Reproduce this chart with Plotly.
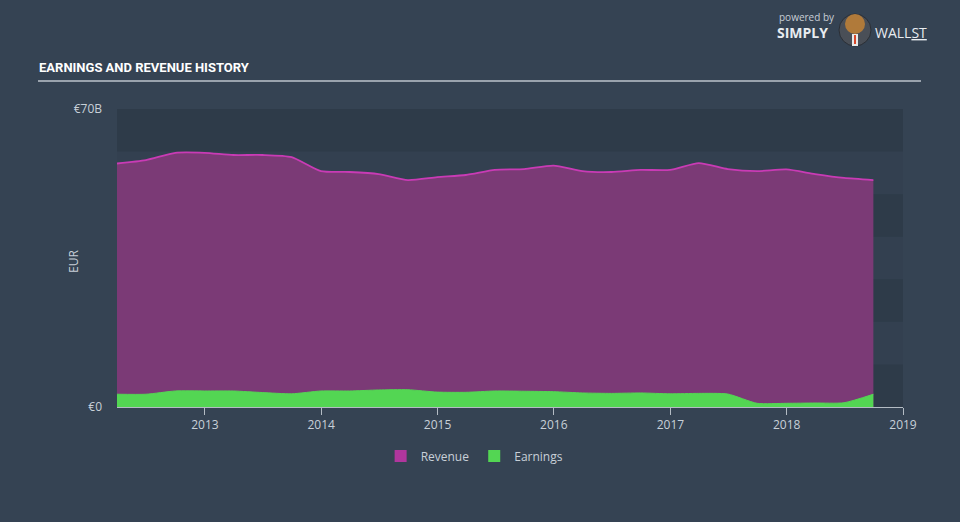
import plotly.graph_objects as go

dates = ["2012-03-31", "2012-06-30", "2012-09-30", "2012-12-31",
         "2013-03-31", "2013-06-30", "2013-09-30", "2013-12-31",
         "2014-03-31", "2014-06-30", "2014-09-30", "2014-12-31",
         "2015-03-31", "2015-06-30", "2015-09-30", "2015-12-31",
         "2016-03-31", "2016-06-30", "2016-09-30", "2016-12-31",
         "2017-03-31", "2017-06-30", "2017-09-30", "2017-12-31",
         "2018-03-31", "2018-06-30", "2018-09-30"]

revenue = [57.2, 58.0, 59.7, 59.7, 59.2, 59.2, 58.7, 55.4, 55.2, 54.7,
           53.3, 54.0, 54.5, 55.7, 55.9, 56.7, 55.4, 55.2, 55.7, 55.7,
           57.3, 55.9, 55.4, 55.8, 54.7, 53.8, 53.3]

earnings = [3.0, 3.0, 3.76, 3.76, 3.76, 3.4, 3.1, 3.76, 3.76, 4.0,
            4.06, 3.5, 3.45, 3.76, 3.7, 3.6, 3.3, 3.2, 3.3, 3.1,
            3.2, 3.05, 0.87, 0.87, 0.94, 1.0, 3.0]

year_ticks = ["2013-01-01", "2014-01-01", "2015-01-01", "2016-01-01",
              "2017-01-01", "2018-01-01", "2019-01-01"]
year_labels = ["2013", "2014", "2015", "2016", "2017", "2018", "2019"]

y_ticks = [0, 70]
y_labels = ["€0", "€70B"]

REV_LINE = "#c93bb5"
REV_FILL = "#7b3a76"
EARN_FILL = "#53d653"
TXT = "#c8d0d8"

# pixel helpers for paper-referenced decorations (plot area 117..903 x 109..407)
def px(x):
    return (x - 117) / 786

def py(y):
    return (407 - y) / 298

fig = go.Figure()

fig.add_trace(go.Scatter(
    x=dates, y=revenue, mode="lines", fill="tozeroy",
    line=dict(color=REV_LINE, width=1.8, shape="spline", smoothing=0.6),
    fillcolor=REV_FILL, showlegend=False, hoverinfo="skip"))

fig.add_trace(go.Scatter(
    x=dates, y=earnings, mode="lines", fill="tozeroy",
    line=dict(color=EARN_FILL, width=1, shape="spline", smoothing=0.6),
    fillcolor=EARN_FILL, showlegend=False, hoverinfo="skip"))

# legend entries
fig.add_trace(go.Scatter(x=[None], y=[None], mode="markers", name="Revenue",
                         marker=dict(symbol="square", size=15, color="#b0369d")))
fig.add_trace(go.Scatter(x=[None], y=[None], mode="markers", name="Earnings",
                         marker=dict(symbol="square", size=15, color=EARN_FILL)))

# alternating bands every 10B
shapes = []
for lo in [0, 20, 40, 60]:
    shapes.append(dict(type="rect", xref="paper", yref="y", x0=0, x1=1,
                       y0=lo, y1=lo + 10, fillcolor="#2e3b49",
                       line=dict(width=0), layer="below"))
# title underline
shapes.append(dict(type="line", xref="paper", yref="paper",
                   x0=px(38), x1=px(921), y0=py(81), y1=py(81),
                   line=dict(color="#9aa3ad", width=2)))
# logo emblem
shapes.append(dict(type="circle", xref="paper", yref="paper",
                   x0=px(839), x1=px(871), y0=py(46), y1=py(14),
                   fillcolor="#4a4f57", line=dict(color="#2b2f36", width=1)))
shapes.append(dict(type="circle", xref="paper", yref="paper",
                   x0=px(845), x1=px(865), y0=py(34), y1=py(14),
                   fillcolor="#b07a3a", line=dict(width=0)))
shapes.append(dict(type="rect", xref="paper", yref="paper",
                   x0=px(852), x1=px(858), y0=py(46), y1=py(34),
                   fillcolor="#e8e8e8", line=dict(width=0)))
shapes.append(dict(type="rect", xref="paper", yref="paper",
                   x0=px(854), x1=px(856), y0=py(44), y1=py(35),
                   fillcolor="#d9482b", line=dict(width=0)))

annotations = [
    dict(text="EARNINGS AND REVENUE HISTORY", xref="paper", yref="paper",
         x=px(37), y=py(68), xanchor="left", yanchor="middle",
         showarrow=False,
         font=dict(family="Roboto", size=13, color="#ffffff", weight="bold")),
    dict(text="powered by", xref="paper", yref="paper",
         x=px(777), y=py(17), xanchor="left", yanchor="middle",
         showarrow=False, font=dict(family="Open Sans", size=10, color="#c8ced6")),
    dict(text="<b>SIMPLY</b>", xref="paper", yref="paper",
         x=px(775), y=py(33), xanchor="left", yanchor="middle",
         showarrow=False, font=dict(family="Open Sans", size=14, color="#e8ecf0")),
    dict(text="WALL<u>ST</u>", xref="paper", yref="paper",
         x=px(873), y=py(33), xanchor="left", yanchor="middle",
         showarrow=False, font=dict(family="Open Sans", size=14, color="#e8ecf0")),
    dict(text="EUR", xref="paper", yref="paper",
         x=px(73), y=py(262), xanchor="center", yanchor="middle", textangle=-90,
         showarrow=False, font=dict(family="Open Sans", size=12, color=TXT)),
]

fig.update_layout(
    width=960, height=522,
    margin=dict(l=117, r=57, t=109, b=115),
    paper_bgcolor="#354353",
    plot_bgcolor="#334050",
    font=dict(family="Open Sans", color=TXT, size=12),
    shapes=shapes,
    annotations=annotations,
    legend=dict(orientation="h", x=0.455, xanchor="center", y=py(456), yanchor="middle",
                font=dict(size=12, color=TXT), itemsizing="constant",
                bgcolor="rgba(0,0,0,0)"),
    xaxis=dict(type="date", range=["2012-03-31", "2019-01-01"],
               tickvals=year_ticks, ticktext=year_labels,
               showgrid=False, zeroline=False,
               showline=True, linecolor="#b4bcc4", linewidth=1,
               ticks="outside", ticklen=7, tickcolor="#b4bcc4",
               tickfont=dict(size=12, color=TXT)),
    yaxis=dict(range=[0, 70], tickvals=y_ticks, ticktext=y_labels,
               showgrid=False, zeroline=False, showline=False,
               ticks="", ticklabelstandoff=14, tickfont=dict(size=12, color=TXT)),
)

fig.write_html("out.html", config={"displayModeBar": False},
               post_script="document.body.style.margin='0';document.body.style.overflow='hidden';")
